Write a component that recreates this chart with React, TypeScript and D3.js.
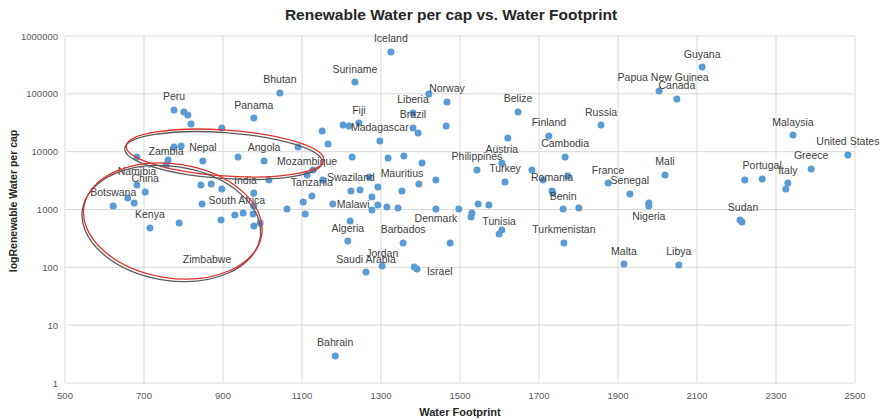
import React from 'react';
import * as d3 from 'd3';

// labelled countries: water footprint (x) and renewable water per cap (y, log)
const labelNames = [
  'Iceland', 'Suriname', 'Bhutan', 'Guyana', 'Papua New Guinea', 'Canada', 'Norway', 'Liberia', 'Brazil',
  'Belize', 'Russia', 'Finland', 'Cambodia', 'Austria', 'Philippines', 'Turkey', 'Romania', 'Benin',
  'Tunisia', 'Turkmenistan', 'France', 'Senegal', 'Mali', 'Nigeria', 'Malta', 'Libya', 'Sudan',
  'Malaysia', 'United States', 'Greece', 'Portugal', 'Italy', 'Peru', 'Panama', 'Zambia', 'Nepal',
  'Angola', 'India', 'Namibia', 'China', 'Botswana', 'South Africa', 'Kenya', 'Zimbabwe', 'Mozambique',
  'Tanzania', 'Fiji', 'Madagascar', 'Swaziland', 'Mauritius', 'Malawi', 'Denmark', 'Algeria',
  'Barbados', 'Saudi Arabia', 'Jordan', 'Israel', 'Bahrain'
];
const labelFootprint = [
  1325, 1234, 1044, 2113, 2004, 2049, 1467, 1381, 1381,
  1647, 1857, 1725, 1766, 1606, 1543, 1614, 1733, 1761,
  1599, 1763, 1875, 1930, 2019, 1978, 1915, 2054, 2209,
  2343, 2482, 2389, 2265, 2330, 776, 978, 756, 849,
  1004, 1016, 682, 703, 622, 930, 715, 895, 1113,
  1125, 1244, 1297, 1224, 1353, 1178, 1439, 1216,
  1356, 1262, 1303, 1391, 1184
];
const labelRenewable = [
  529000, 160000, 103500, 291000, 112000, 81500, 72300, 46700, 25700,
  48600, 28900, 18700, 8090, 6370, 4820, 2990, 2090, 1020,
  377, 264, 2870, 1855, 3950, 1297, 114, 110, 658,
  19400, 8770, 5020, 3370, 2870, 52600, 38200, 5890, 6900,
  6900, 3240, 2655, 2010, 1150, 804, 479, 659, 3950,
  1713, 31300, 15300, 2090, 2090, 1245, 1020, 285,
  264, 83, 105, 93.6, 2.93
];

// unlabelled countries
const otherFootprint = [
  1421, 1394, 1621, 1682, 1773, 1710, 1735, 1801, 1546, 1573, 1530, 1528, 1606, 1978, 2214,
  2221, 2325, 801, 811, 819, 897, 776, 794, 682, 761, 938, 1090, 659, 675, 844,
  870, 897, 978, 847, 978, 951, 976, 978, 994, 789, 1062, 1128, 1153, 1103, 1108,
  1151, 1166, 1204, 1219, 1465, 1227, 1318, 1358, 1404, 1270, 1439, 1396, 1247, 1292, 1277,
  1292, 1277, 1315, 1343, 1497, 1222, 1475, 1384
];
const otherRenewable = [
  99400, 21000, 17200, 4820, 3800, 3240, 1930, 1060, 1245, 1197, 871, 742, 442, 1150, 608,
  3240, 2260, 48600, 43100, 30100, 25700, 12050, 12540, 8090, 7180, 8090, 12050, 1582, 1297, 2655,
  2760, 2260, 1930, 1245, 1150, 871, 836, 519, 584, 584, 1020, 4820, 3240, 1349, 836,
  22800, 13580, 28900, 27800, 27800, 8090, 7780, 8420, 6370, 3650, 3240, 2760, 2175, 2450, 1645,
  1197, 981, 1105, 1062, 1020, 633, 264, 101
];

const xTickValues = [500, 700, 900, 1100, 1300, 1500, 1700, 1900, 2100, 2300, 2500];
const yTickValues = [1, 10, 100, 1000, 10000, 100000, 1000000];

// label placement tweaks (default: centred above the point)
const labelNudge: Record<string, { dx?: number; dy?: number; anchor?: string }> = {
  'India': { dx: -12, dy: 0, anchor: 'end' },
  'Malawi': { dx: 4, dy: 0, anchor: 'start' },
  'Israel': { dx: 10, dy: 2, anchor: 'start' },
  'Nigeria': { dy: 13 },
  'Denmark': { dy: 9 },
  'Zimbabwe': { dx: -14, dy: 39 },
  'Mauritius': { dy: -18 },
  'Papua New Guinea': { dx: 4 },
  'Sudan': { dx: 3 },
  'South Africa': { dx: 2, dy: -15 },
};

// hand drawn highlight ellipses (centre in data units, radii in px)
const ellipses = [
  { cx: 905, cy: 9480, rx: 99, ry: 23, angle: 4 },
  { cx: 773, cy: 633, rx: 90, ry: 57, angle: 9 },
];

const W = 884, H = 420;
const font = 'Liberation Sans, Arial, sans-serif';

const App = () => {
  const x = d3.scaleLinear().domain([500, 2500]).range([65, 855]);
  const y = d3.scaleLog().domain([1, 1e6]).range([383, 36]);

  return (
    <svg width={W} height={H} style={{ position: 'absolute', left: 0, top: 0, background: '#fff' }}>
      {/* grid */}
      <g stroke="#d9d9d9" strokeWidth={1}>
        {xTickValues.map(v => (
          <line key={'gx' + v} x1={x(v)} x2={x(v)} y1={y(1e6)} y2={y(1)} />
        ))}
        {yTickValues.map(v => (
          <line key={'gy' + v} x1={x(500)} x2={x(2500)} y1={y(v)} y2={y(v)} />
        ))}
      </g>

      {/* tick labels */}
      <g fontFamily={font} fontSize={9.5} fill="#595959">
        {xTickValues.map(v => (
          <text key={'tx' + v} x={x(v)} y={399} textAnchor="middle">{v}</text>
        ))}
        {yTickValues.map(v => (
          <text key={'ty' + v} x={58} y={y(v)} textAnchor="end" dominantBaseline="central">{v}</text>
        ))}
      </g>

      {/* points */}
      <g fill="#5b9bd5">
        {otherFootprint.map((v, i) => (
          <circle key={'o' + i} cx={x(v)} cy={y(otherRenewable[i])} r={3.5} />
        ))}
        {labelFootprint.map((v, i) => (
          <circle key={'l' + i} cx={x(v)} cy={y(labelRenewable[i])} r={3.5} />
        ))}
      </g>

      {/* data labels */}
      <g fontFamily={font} fontSize={10.5} fill="#404040">
        {labelNames.map((name, i) => {
          const n = labelNudge[name] || {};
          return (
            <text key={'lab' + name}
              x={x(labelFootprint[i]) + (n.dx ?? 0)}
              y={y(labelRenewable[i]) + (n.dy ?? -13.5)}
              textAnchor={n.anchor ?? 'middle'}
              dominantBaseline="central">{name}</text>
          );
        })}
      </g>

      {/* ellipses: grey shadow then red */}
      {ellipses.map((e, i) => {
        const cx = x(e.cx), cy = y(e.cy);
        return (
          <g key={'el' + i} fill="none" strokeWidth={1.3}>
            <ellipse cx={cx - 1.5} cy={cy + 2.5} rx={e.rx} ry={e.ry} stroke="#595959"
              transform={`rotate(${e.angle} ${cx - 1.5} ${cy + 2.5})`} />
            <ellipse cx={cx} cy={cy} rx={e.rx} ry={e.ry} stroke="#e0302a"
              transform={`rotate(${e.angle} ${cx} ${cy})`} />
          </g>
        );
      })}

      {/* titles */}
      <text x={451} y={20} textAnchor="middle" fontFamily={font} fontSize={15.5} fontWeight="bold" fill="#262626">
        Renewable Water per cap vs. Water Footprint
      </text>
      <text x={460} y={416} textAnchor="middle" fontFamily={font} fontSize={11} fontWeight="bold" fill="#262626">
        Water Footprint
      </text>
      <text transform={`translate(13, 201) rotate(-90)`} textAnchor="middle" dominantBaseline="central"
        fontFamily={font} fontSize={10.5} fontWeight="bold" fill="#262626">
        logRenewable Water per cap
      </text>
    </svg>
  );
};

export default App;
